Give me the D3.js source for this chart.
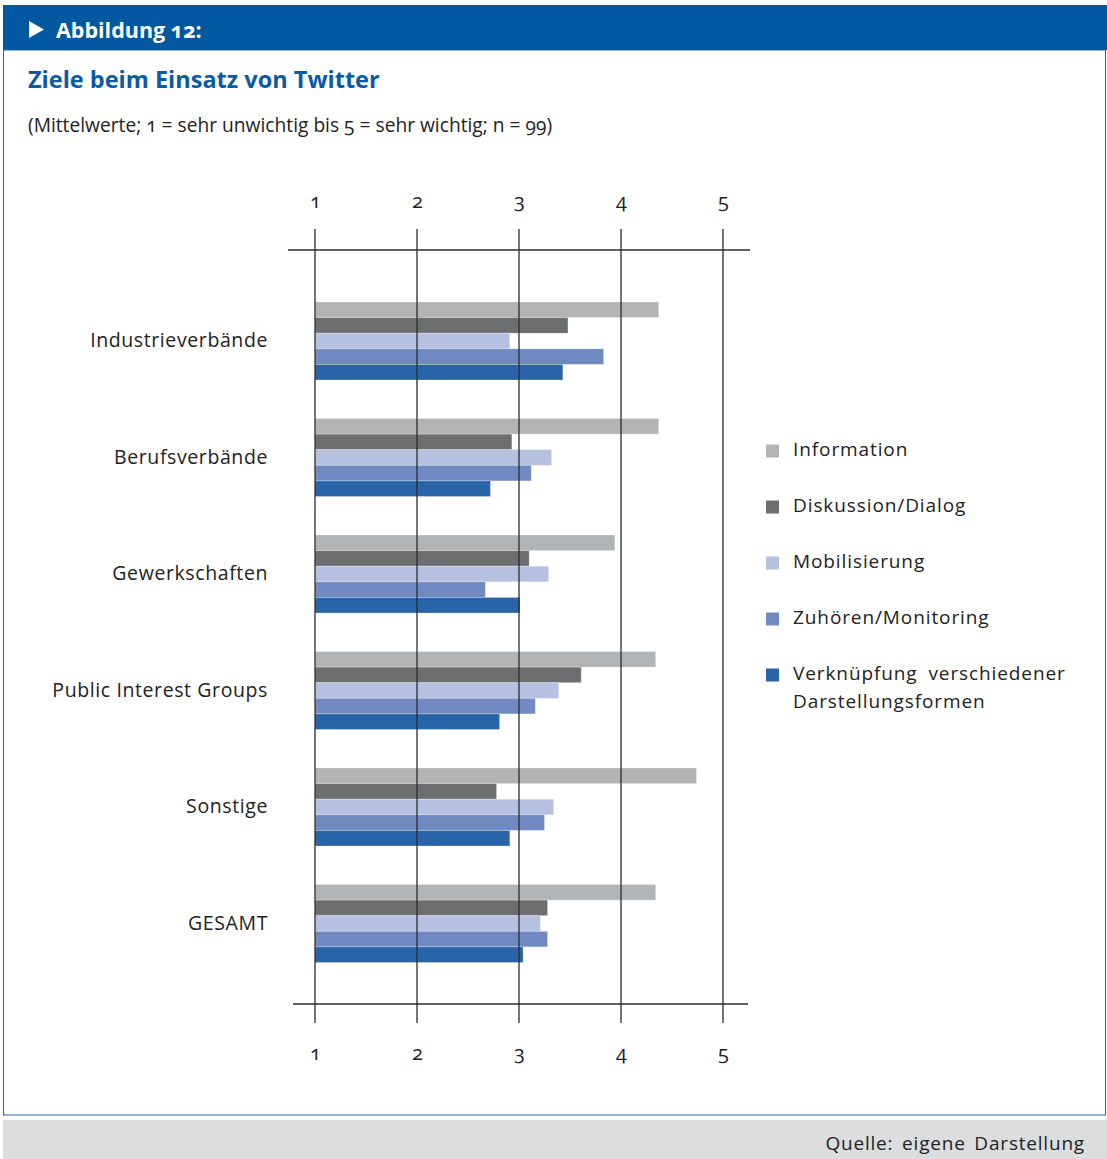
<!DOCTYPE html>
<html><head><meta charset="utf-8">
<script src="https://cdn.jsdelivr.net/npm/d3@7"></script>
<style>
html,body{margin:0;padding:0;background:#fff;}
svg{display:block;font-family:"Open Sans","Noto Sans",sans-serif;}
</style></head>
<body><svg id="chart" width="1107" height="1159"></svg>
<script>
const categories = ["Industrieverbände","Berufsverbände","Gewerkschaften","Public Interest Groups","Sonstige","GESAMT"];
const seriesNames = ["Information","Diskussion/Dialog","Mobilisierung","Zuhören/Monitoring","Verknüpfung verschiedener Darstellungsformen"];
const information   = [4.37, 4.37, 3.94, 4.34, 4.74, 4.34];
const diskussion    = [3.48, 2.93, 3.10, 3.61, 2.78, 3.28];
const mobilisierung = [2.91, 3.32, 3.29, 3.39, 3.34, 3.21];
const zuhoeren      = [3.83, 3.12, 2.67, 3.16, 3.25, 3.28];
const verknuepfung  = [3.43, 2.72, 3.01, 2.81, 2.91, 3.04];
const tickValues = [1,2,3,4,5];
const tickLabels = ["1","2","3","4","5"];
const colors = ["#b2b3b5","#6d6e70","#b6c1e1","#7089c1","#2963a8"];

const seriesValues = [information, diskussion, mobilisierung, zuhoeren, verknuepfung];

const svg = d3.select("#chart");

// header band
svg.append("rect").attr("x",3).attr("y",5).attr("width",1104).attr("height",45).attr("fill","#0157a0");
svg.append("path").attr("d","M29,21 L44,29.5 L29,38 Z").attr("fill","#fff");
svg.append("text").attr("x",56).attr("y",38).attr("fill","#fff")
  .attr("font-size",21.5).attr("font-weight","bold")
  .style("font-variant-numeric","oldstyle-nums").text("Abbildung 12:");
// panel border
svg.append("rect").attr("x",3.5).attr("y",50).attr("width",1102).attr("height",1065).attr("fill","none").attr("stroke","#2a64a6").attr("stroke-width",1);
// footer
svg.append("rect").attr("x",3).attr("y",1120).attr("width",1104).attr("height",39).attr("fill","#dcdddf");
svg.append("text").attr("x",1085).attr("y",1150).attr("text-anchor","end").attr("fill","#222")
  .attr("font-size",19).style("letter-spacing","0.8px").style("word-spacing","3px").text("Quelle: eigene Darstellung");

// titles
svg.append("text").attr("x",28).attr("y",88).attr("fill","#0a5aa5").attr("font-size",23.5).attr("font-weight","bold")
  .text("Ziele beim Einsatz von Twitter");
svg.append("text").attr("x",28).attr("y",132).attr("fill","#222").attr("font-size",19.2)
  .style("font-variant-numeric","oldstyle-nums")
  .text("(Mittelwerte; 1 = sehr unwichtig bis 5 = sehr wichtig; n = 99)");

// scales
const x = d3.scaleLinear().domain([1,5]).range([315,723]);
const y0 = d3.scaleBand().domain(categories).range([302, 302+116.5*6]).paddingInner(0).paddingOuter(0);
const groupH = 78;
const y1 = d3.scaleBand().domain(seriesNames).range([0, groupH]);

// bars
const g = svg.append("g");
seriesNames.forEach((s, si) => {
  g.selectAll(null).data(categories).enter().append("rect")
    .attr("x", x(1))
    .attr("y", (c) => y0(c) + y1(s))
    .attr("width", (c, i) => x(seriesValues[si][i]) - x(1))
    .attr("height", y1.bandwidth())
    .attr("fill", colors[si])
    .attr("stroke","#fff").attr("stroke-opacity",0.35).attr("stroke-width",0.8);
});

// gridlines (on top of bars)
svg.append("g").selectAll("line").data(tickValues).enter().append("line")
  .attr("x1", d => x(d)).attr("x2", d => x(d)).attr("y1",229).attr("y2",1023)
  .attr("stroke","#2b2b2b").attr("stroke-width",1.3);
// horizontal axis lines
svg.append("line").attr("x1",288).attr("x2",750).attr("y1",250).attr("y2",250).attr("stroke","#2b2b2b").attr("stroke-width",1.3);
svg.append("line").attr("x1",293).attr("x2",748).attr("y1",1004).attr("y2",1004).attr("stroke","#2b2b2b").attr("stroke-width",1.3);

// axes labels (top & bottom) via d3 axes
const axisTop = d3.axisTop(x).tickValues(tickValues).tickFormat((d,i)=>tickLabels[i]).tickSize(0);
const aT = svg.append("g").attr("transform","translate(0,208)").call(axisTop);
aT.select(".domain").remove();
aT.selectAll("text").attr("font-size",20).attr("fill","#222").attr("font-family","'Open Sans',sans-serif")
  .style("font-variant-numeric","oldstyle-nums").attr("dy",0).attr("y",0);
const axisBottom = d3.axisBottom(x).tickValues(tickValues).tickFormat((d,i)=>tickLabels[i]).tickSize(0);
const aB = svg.append("g").attr("transform","translate(0,1060)").call(axisBottom);
aB.select(".domain").remove();
aB.selectAll("text").attr("font-size",20).attr("fill","#222").attr("font-family","'Open Sans',sans-serif")
  .style("font-variant-numeric","oldstyle-nums").attr("dy",0).attr("y",0);

// category labels
svg.append("g").selectAll("text").data(categories).enter().append("text")
  .attr("x",268).attr("y", c => y0(c) + groupH/2 + 1)
  .attr("dominant-baseline","middle")
  .attr("text-anchor","end").attr("font-size",19.5).attr("fill","#222").style("letter-spacing","0.6px")
  .text(c => c);

// legend
const legendY = [451, 507, 563, 619, 675];
const lg = svg.append("g");
seriesNames.forEach((s, i) => {
  lg.append("rect").attr("x",766).attr("y",legendY[i]-6.5).attr("width",13).attr("height",13).attr("fill",colors[i]);
  const t = lg.append("text").attr("x",793).attr("y",legendY[i]).attr("dominant-baseline","middle")
    .attr("font-size",19).attr("fill","#222").style("letter-spacing","0.9px");
  if (i === 4) {
    t.append("tspan").attr("x",793).style("word-spacing","5px").text("Verknüpfung verschiedener");
    t.append("tspan").attr("x",793).attr("dy",28).text("Darstellungsformen");
  } else {
    t.text(s);
  }
});
</script></body></html>
